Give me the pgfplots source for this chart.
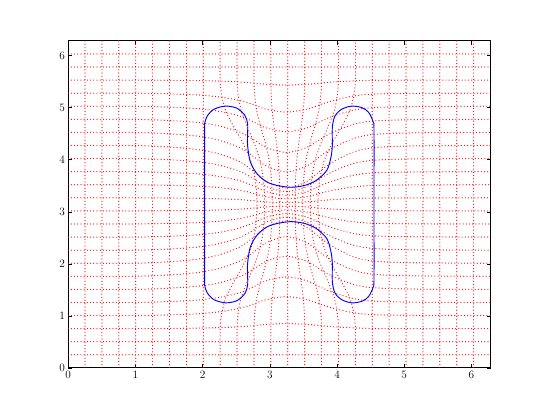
\documentclass[border=0pt]{standalone}
\usepackage{pgfplots}
\usepackage{pgfplotstable}
\pgfplotsset{compat=1.18}

% deformed horizontal grid lines (y of line k at each x)
\pgfplotstableread{
x h3 h4 h5 h6 h7 h8 h9 h10 h11 h12 h13 h14 h15 h16 h17 h18 h19 h20 h21 h22
0     0.754 1.005 1.257 1.508 1.760 2.011 2.262 2.513 2.765 3.016 3.267 3.518 3.770 4.021 4.273 4.524 4.775 5.027 5.278 5.529
1.0   0.754 1.005 1.257 1.508 1.760 2.011 2.262 2.513 2.765 3.016 3.267 3.518 3.770 4.021 4.273 4.524 4.775 5.027 5.278 5.529
1.55  0.758 1.020 1.276 1.534 1.790 2.044 2.287 2.532 2.776 3.020 3.264 3.508 3.751 3.996 4.240 4.494 4.750 5.008 5.263 5.525
1.95  0.764 1.041 1.306 1.572 1.836 2.092 2.325 2.559 2.792 3.025 3.258 3.491 3.724 3.958 4.191 4.448 4.712 4.978 5.242 5.520
2.25  0.773 1.078 1.355 1.635 1.912 2.174 2.389 2.604 2.819 3.034 3.249 3.464 3.679 3.895 4.110 4.372 4.648 4.929 5.205 5.511
2.55  0.790 1.144 1.444 1.750 2.049 2.320 2.503 2.686 2.868 3.050 3.233 3.415 3.598 3.780 3.963 4.235 4.534 4.840 5.139 5.494
2.75  0.811 1.223 1.551 1.890 2.216 2.499 2.642 2.785 2.928 3.070 3.213 3.355 3.498 3.641 3.784 4.068 4.393 4.733 5.060 5.472
2.95  0.835 1.313 1.674 2.049 2.405 2.703 2.801 2.898 2.995 3.093 3.190 3.288 3.385 3.483 3.580 3.879 4.235 4.610 4.970 5.449
3.25  0.850 1.368 1.747 2.145 2.520 2.825 2.895 2.966 3.036 3.106 3.177 3.247 3.317 3.388 3.458 3.764 4.138 4.537 4.915 5.434
3.55  0.835 1.313 1.674 2.049 2.405 2.703 2.801 2.898 2.995 3.093 3.190 3.288 3.385 3.483 3.580 3.879 4.235 4.610 4.970 5.449
3.75  0.811 1.223 1.551 1.890 2.216 2.499 2.642 2.785 2.928 3.070 3.213 3.355 3.498 3.641 3.784 4.068 4.393 4.733 5.060 5.472
3.95  0.790 1.144 1.444 1.750 2.049 2.320 2.503 2.686 2.868 3.050 3.233 3.415 3.598 3.780 3.963 4.235 4.534 4.840 5.139 5.494
4.25  0.768 1.058 1.330 1.603 1.873 2.133 2.357 2.581 2.806 3.029 3.254 3.478 3.702 3.927 4.150 4.410 4.681 4.953 5.225 5.515
4.55  0.758 1.022 1.282 1.539 1.797 2.051 2.293 2.536 2.778 3.020 3.263 3.505 3.747 3.990 4.232 4.486 4.744 5.002 5.261 5.525
5.15  0.754 1.009 1.263 1.514 1.767 2.019 2.268 2.518 2.767 3.017 3.266 3.516 3.765 4.015 4.265 4.517 4.769 5.021 5.274 5.529
6.2832 0.754 1.005 1.257 1.508 1.760 2.011 2.262 2.513 2.765 3.016 3.267 3.518 3.770 4.021 4.273 4.524 4.775 5.027 5.278 5.529
}\hlines

% deformed vertical grid lines (x of line j at each y)
\pgfplotstableread{
y v9 v10 v11 v12 v13 v14 v15 v16 v17
0      2.262 2.513 2.765 3.016 3.267 3.519 3.770 4.021 4.273
0.742  2.262 2.513 2.765 3.016 3.267 3.519 3.770 4.021 4.273
1.042  2.284 2.529 2.776 3.021 3.267 3.513 3.759 4.004 4.251
1.342  2.344 2.574 2.806 3.036 3.266 3.498 3.728 3.959 4.190
1.642  2.460 2.661 2.863 3.064 3.266 3.468 3.669 3.870 4.072
1.942  2.591 2.760 2.928 3.097 3.265 3.434 3.602 3.770 3.939
2.242  2.701 2.842 2.983 3.123 3.264 3.405 3.546 3.686 3.827
2.542  2.767 2.891 3.015 3.139 3.263 3.388 3.512 3.636 3.760
2.842  2.800 2.916 3.032 3.148 3.263 3.379 3.495 3.611 3.727
3.142  2.811 2.924 3.037 3.150 3.263 3.377 3.490 3.602 3.716
3.442  2.800 2.916 3.032 3.148 3.263 3.379 3.495 3.611 3.727
3.742  2.767 2.891 3.015 3.139 3.263 3.388 3.512 3.636 3.760
4.042  2.701 2.842 2.983 3.123 3.264 3.405 3.546 3.686 3.827
4.342  2.591 2.760 2.928 3.097 3.265 3.434 3.602 3.770 3.939
4.642  2.460 2.661 2.863 3.064 3.266 3.468 3.669 3.870 4.072
4.942  2.344 2.574 2.806 3.036 3.266 3.498 3.728 3.959 4.190
5.242  2.284 2.529 2.776 3.021 3.267 3.513 3.759 4.004 4.251
5.542  2.262 2.513 2.765 3.016 3.267 3.519 3.770 4.021 4.273
6.2832 2.262 2.513 2.765 3.016 3.267 3.519 3.770 4.021 4.273
}\vlines

\begin{document}
\begin{tikzpicture}
\begin{axis}[
    width=6.2in, height=4.8in, scale only axis,
    xmin=0, xmax=6.2832, ymin=0, ymax=6.2832,
    xtick={0,1,2,3,4,5,6}, ytick={0,1,2,3,4,5,6},
    tick pos=both, tick align=inside,
    major tick length=4pt,
    tick style={black, line width=0.5pt},
    ticklabel style={font=\large},
    axis line style={line width=0.8pt},
    gl/.style={red, line width=1.3pt, line cap=round, dash pattern=on 0pt off 3.4pt},
]
% straight lines far from the centre
\pgfplotsinvokeforeach{0.251,0.503,5.781,6.032}{
  \addplot[gl] coordinates {(0,#1) (6.2832,#1)};
}
\pgfplotsinvokeforeach{0.251,0.503,0.754,1.005,1.257,1.508,1.760,2.011,4.524,4.775,5.027,5.278,5.529,5.781,6.032}{
  \addplot[gl] coordinates {(#1,0) (#1,6.2832)};
}
% bent lines
\pgfplotsinvokeforeach{3,...,22}{
  \addplot[gl, smooth] table[x=x, y=h#1] {\hlines};
}
\pgfplotsinvokeforeach{9,...,17}{
  \addplot[gl, smooth] table[x=v#1, y=y] {\vlines};
}
% the H shaped contour
\addplot[blue, line width=1pt, smooth, tension=0.5] coordinates {
  (2.03,3.14) (2.03,4.55) (2.03,4.69) (2.07,4.84) (2.17,4.97) (2.34,5.03)
  (2.51,4.99) (2.63,4.85) (2.67,4.69) (2.67,4.50) (2.67,4.27) (2.71,3.96)
  (2.81,3.73) (2.96,3.57) (3.13,3.50) (3.33,3.47) (3.53,3.51) (3.70,3.61)
  (3.85,3.80) (3.91,4.05) (3.93,4.27) (3.93,4.62) (3.97,4.84) (4.07,4.97)
  (4.22,5.03) (4.37,5.00) (4.47,4.91) (4.54,4.72) (4.55,4.55) (4.55,3.14)
  (4.55,1.73) (4.54,1.56) (4.47,1.37) (4.37,1.28) (4.22,1.25) (4.07,1.31)
  (3.97,1.44) (3.93,1.66) (3.93,2.01) (3.91,2.23) (3.85,2.48) (3.70,2.67)
  (3.53,2.77) (3.33,2.81) (3.13,2.78) (2.96,2.71) (2.81,2.55) (2.71,2.32)
  (2.67,2.01) (2.67,1.78) (2.67,1.59) (2.63,1.43) (2.51,1.29) (2.34,1.25)
  (2.17,1.31) (2.07,1.44) (2.03,1.59) (2.03,1.73) (2.03,3.14)
};
\end{axis}
\path (current axis.south west) ++(-1in,-0.6in);
\path (current axis.north east) ++(0.8in,0.6in);
\end{tikzpicture}
\end{document}
